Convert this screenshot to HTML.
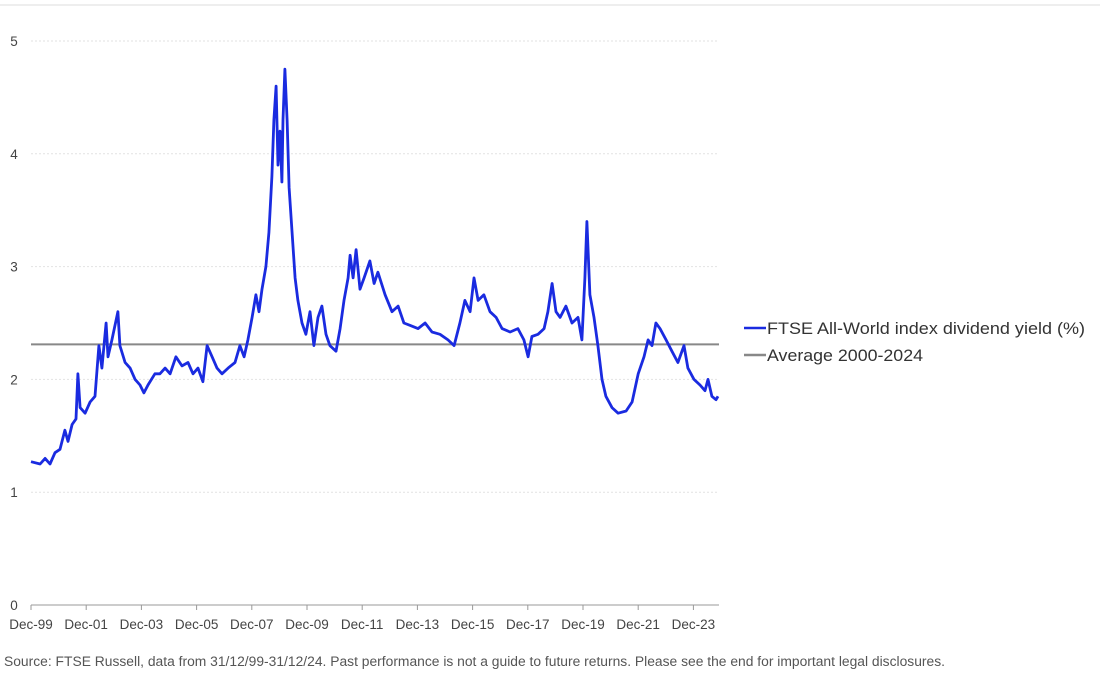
<!DOCTYPE html>
<html><head><meta charset="utf-8"><style>
body{margin:0;background:#fff;font-family:"Liberation Sans",sans-serif;}
svg text{font-family:"Liberation Sans",sans-serif;}
</style></head><body>
<svg id="chart" width="1100" height="672" xmlns="http://www.w3.org/2000/svg">
<line x1="0" y1="5" x2="1100" y2="5" stroke="#ddd" stroke-width="1"/>
<g id="grid"></g><g id="yaxis"></g><g id="xaxis"></g><g id="series"></g>
<g>
<line x1="744" y1="328" x2="766" y2="328" stroke="#1a2be0" stroke-width="2.5"/>
<text x="767" y="334" font-size="16.5" fill="#333" textLength="318" lengthAdjust="spacingAndGlyphs">FTSE All-World index dividend yield (%)</text>
<line x1="744" y1="355" x2="766" y2="355" stroke="#888" stroke-width="2.5"/>
<text x="767" y="361" font-size="16.5" fill="#333" textLength="156" lengthAdjust="spacingAndGlyphs">Average 2000-2024</text>
</g>
<text x="4" y="666" font-size="13.5" fill="#555" textLength="941" lengthAdjust="spacingAndGlyphs">Source: FTSE Russell, data from 31/12/99-31/12/24. Past performance is not a guide to future returns. Please see the end for important legal disclosures.</text>
</svg>
<script>
const yearsSinceDec99=[0,.33,.51,.69,.87,1.05,1.23,1.34,1.49,1.63,1.70,1.78,1.96,2.14,2.32,2.46,2.57,2.72,2.79,2.93,3.15,3.22,3.41,3.59,3.77,3.95,4.09,4.24,4.49,4.67,4.86,5.04,5.25,5.47,5.69,5.87,6.05,6.23,6.38,6.56,6.74,6.92,7.14,7.39,7.57,7.72,7.86,8.01,8.15,8.26,8.37,8.51,8.62,8.73,8.80,8.88,8.95,9.02,9.09,9.13,9.20,9.28,9.35,9.46,9.57,9.67,9.82,9.96,10.11,10.25,10.40,10.54,10.69,10.83,11.05,11.20,11.34,11.49,11.56,11.67,11.78,11.92,12.07,12.28,12.43,12.57,12.83,13.08,13.30,13.51,13.73,14.02,14.28,14.53,14.82,15.11,15.33,15.54,15.72,15.91,16.05,16.20,16.41,16.63,16.85,17.07,17.36,17.64,17.86,18.01,18.15,18.37,18.59,18.73,18.88,19.02,19.17,19.38,19.60,19.82,19.96,20.07,20.14,20.25,20.40,20.54,20.69,20.83,21.05,21.27,21.56,21.78,22.00,22.21,22.36,22.50,22.64,22.79,23.01,23.22,23.44,23.66,23.80,24.02,24.24,24.42,24.53,24.67,24.82,24.89];
const yieldValues=[1.27,1.25,1.3,1.25,1.35,1.38,1.55,1.45,1.6,1.65,2.05,1.75,1.7,1.8,1.85,2.3,2.1,2.5,2.2,2.35,2.6,2.3,2.15,2.1,2.0,1.95,1.88,1.95,2.05,2.05,2.1,2.05,2.2,2.12,2.15,2.05,2.1,1.98,2.3,2.2,2.1,2.05,2.1,2.15,2.3,2.2,2.35,2.55,2.75,2.6,2.8,3.0,3.3,3.8,4.3,4.6,3.9,4.2,3.75,4.3,4.75,4.3,3.7,3.3,2.9,2.7,2.5,2.4,2.6,2.3,2.55,2.65,2.4,2.3,2.25,2.45,2.7,2.9,3.1,2.9,3.15,2.8,2.9,3.05,2.85,2.95,2.75,2.6,2.65,2.5,2.48,2.45,2.5,2.42,2.4,2.35,2.3,2.5,2.7,2.6,2.9,2.7,2.75,2.6,2.55,2.45,2.42,2.45,2.35,2.2,2.38,2.4,2.45,2.6,2.85,2.6,2.55,2.65,2.5,2.55,2.35,2.9,3.4,2.75,2.55,2.3,2.0,1.85,1.75,1.7,1.72,1.8,2.05,2.2,2.35,2.3,2.5,2.45,2.35,2.25,2.15,2.3,2.1,2.0,1.95,1.9,2.0,1.85,1.82,1.85];
const averageValue=[2.31];
const yTickLabels=["0","1","2","3","4","5"];
const xTickLabels=["Dec-99","Dec-01","Dec-03","Dec-05","Dec-07","Dec-09","Dec-11","Dec-13","Dec-15","Dec-17","Dec-19","Dec-21","Dec-23"];
const NS="http://www.w3.org/2000/svg";
const X0=31,XPY=27.6,Y0=605,PPU=112.8,XEND=719;
const xs=t=>X0+t*XPY, ys=v=>Y0-v*PPU;
function mk(tag,attrs,parent){const e=document.createElementNS(NS,tag);for(const k in attrs)e.setAttribute(k,attrs[k]);parent.appendChild(e);return e;}
const grid=document.getElementById('grid'),ya=document.getElementById('yaxis'),xa=document.getElementById('xaxis'),se=document.getElementById('series');
yTickLabels.forEach((lab,i)=>{const v=+lab;
 if(v>0){const g=mk('line',{x1:X0,x2:XEND,y1:ys(v),y2:ys(v),stroke:'#e2e2e2','stroke-dasharray':'2,2'},grid);
 
 }
 const t=mk('text',{x:14,y:ys(v)+5,'font-size':13.5,fill:'#444','text-anchor':'middle'},ya);t.textContent=lab;
 
 
});
const ax=mk('line',{x1:X0,x2:XEND,y1:Y0,y2:Y0,stroke:'#999'},xa);


xTickLabels.forEach((lab,i)=>{const x=xs(i*2);
 const tk=mk('line',{x1:x,x2:x,y1:Y0,y2:Y0+5,stroke:'#999'},xa);
 
 
 const t=mk('text',{x:x,y:Y0+24,'font-size':13.5,fill:'#444','text-anchor':'middle'},xa);t.textContent=lab;
 
 
});
const avg=mk('line',{x1:X0,x2:XEND,y1:ys(averageValue[0]),y2:ys(averageValue[0]),stroke:'#888','stroke-width':2},se);


const d=yieldValues.map((v,i)=>(i?'L':'M')+xs(yearsSinceDec99[i]).toFixed(1)+','+ys(v).toFixed(1)).join('');
const p=mk('path',{d:d,fill:'none',stroke:'#1a2be0','stroke-width':2.8,'stroke-linejoin':'round'},se);


</script>
</body></html>
